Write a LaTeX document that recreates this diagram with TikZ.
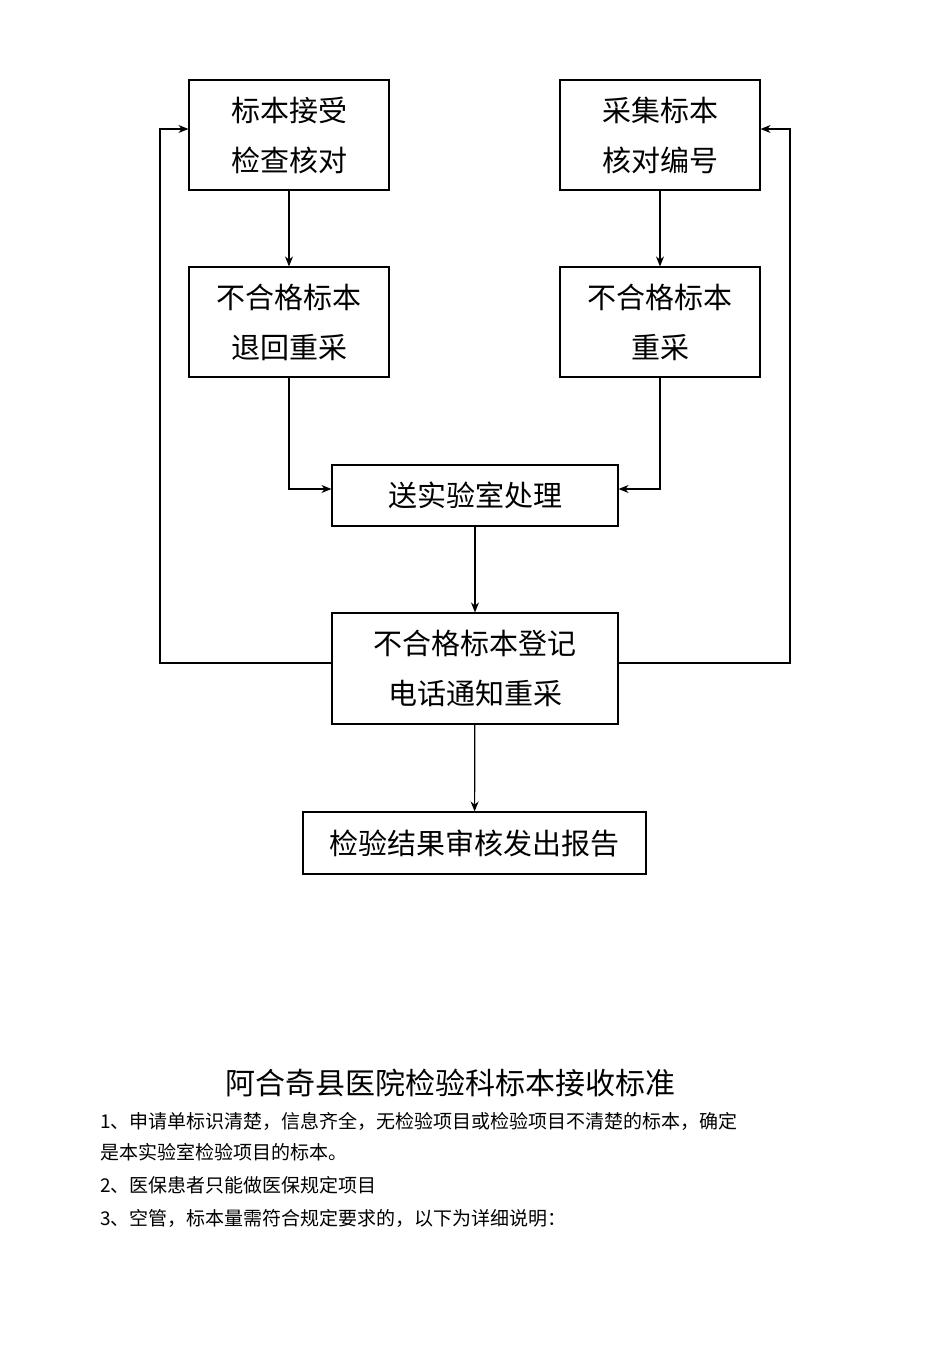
\documentclass[tikz,border=0pt]{standalone}
\usepackage{fontspec}
\setmainfont{Noto Sans CJK SC}
\usetikzlibrary{arrows.meta}
\begin{document}
\begin{tikzpicture}[x=0.5pt,y=-0.5pt,
  box/.style={draw,line width=0.6pt,inner sep=0pt,font=\fontsize{14.5}{25}\selectfont,align=center},
  conn/.style={-{Stealth[length=5pt,width=4pt]},line width=0.6pt}]
\useasboundingbox (0,0) rectangle (950,1345);
\node[box,minimum width=100pt,minimum height=55pt] (A) at (289,135) {标本接受\\检查核对};
\node[box,minimum width=100pt,minimum height=55pt] (B) at (660,135) {采集标本\\核对编号};
\node[box,minimum width=100pt,minimum height=55pt] (C) at (289,322) {不合格标本\\退回重采};
\node[box,minimum width=100pt,minimum height=55pt] (D) at (660,322) {不合格标本\\重采};
\node[box,minimum width=143pt,minimum height=30.5pt] (E) at (475,495.5) {送实验室处理};
\node[box,minimum width=143pt,minimum height=55.5pt] (F) at (475,668.5) {不合格标本登记\\电话通知重采};
\node[box,minimum width=171.5pt,minimum height=31pt] (G) at (474.5,843) {检验结果审核发出报告};
\coordinate (cl) at (289,489); \coordinate (dr) at (660,489);
\coordinate (fl) at (160,663); \coordinate (al) at (160,129);
\coordinate (fr) at (790,663); \coordinate (br) at (790,129);
\draw[conn] (A) -- (C);
\draw[conn] (B) -- (D);
\draw[conn] (C.south) -- (cl) -- (E.west |- cl);
\draw[conn] (D.south) -- (dr) -- (E.east |- dr);
\draw[conn] (E) -- (F);
\draw[conn] (F) -- (G);
\draw[conn] (F.west |- fl) -- (fl) -- (al) -- (A.west |- al);
\draw[conn] (F.east |- fr) -- (fr) -- (br) -- (B.east |- br);
\node[font=\fontsize{15}{18}\selectfont] (T) at (450,1083) {阿合奇县医院检验科标本接收标准};
\node[anchor=west,inner sep=0pt,font=\fontsize{9.5}{12}\selectfont] (L1) at (100,1121) {1、申请单标识清楚，信息齐全，无检验项目或检验项目不清楚的标本，确定};
\node[anchor=west,inner sep=0pt,font=\fontsize{9.5}{12}\selectfont] (L2) at (100,1152) {是本实验室检验项目的标本。};
\node[anchor=west,inner sep=0pt,font=\fontsize{9.5}{12}\selectfont] (L3) at (100,1185) {2、医保患者只能做医保规定项目};
\node[anchor=west,inner sep=0pt,font=\fontsize{9.5}{12}\selectfont] (L4) at (100,1218) {3、空管，标本量需符合规定要求的，以下为详细说明：};
\end{tikzpicture}
\end{document}
